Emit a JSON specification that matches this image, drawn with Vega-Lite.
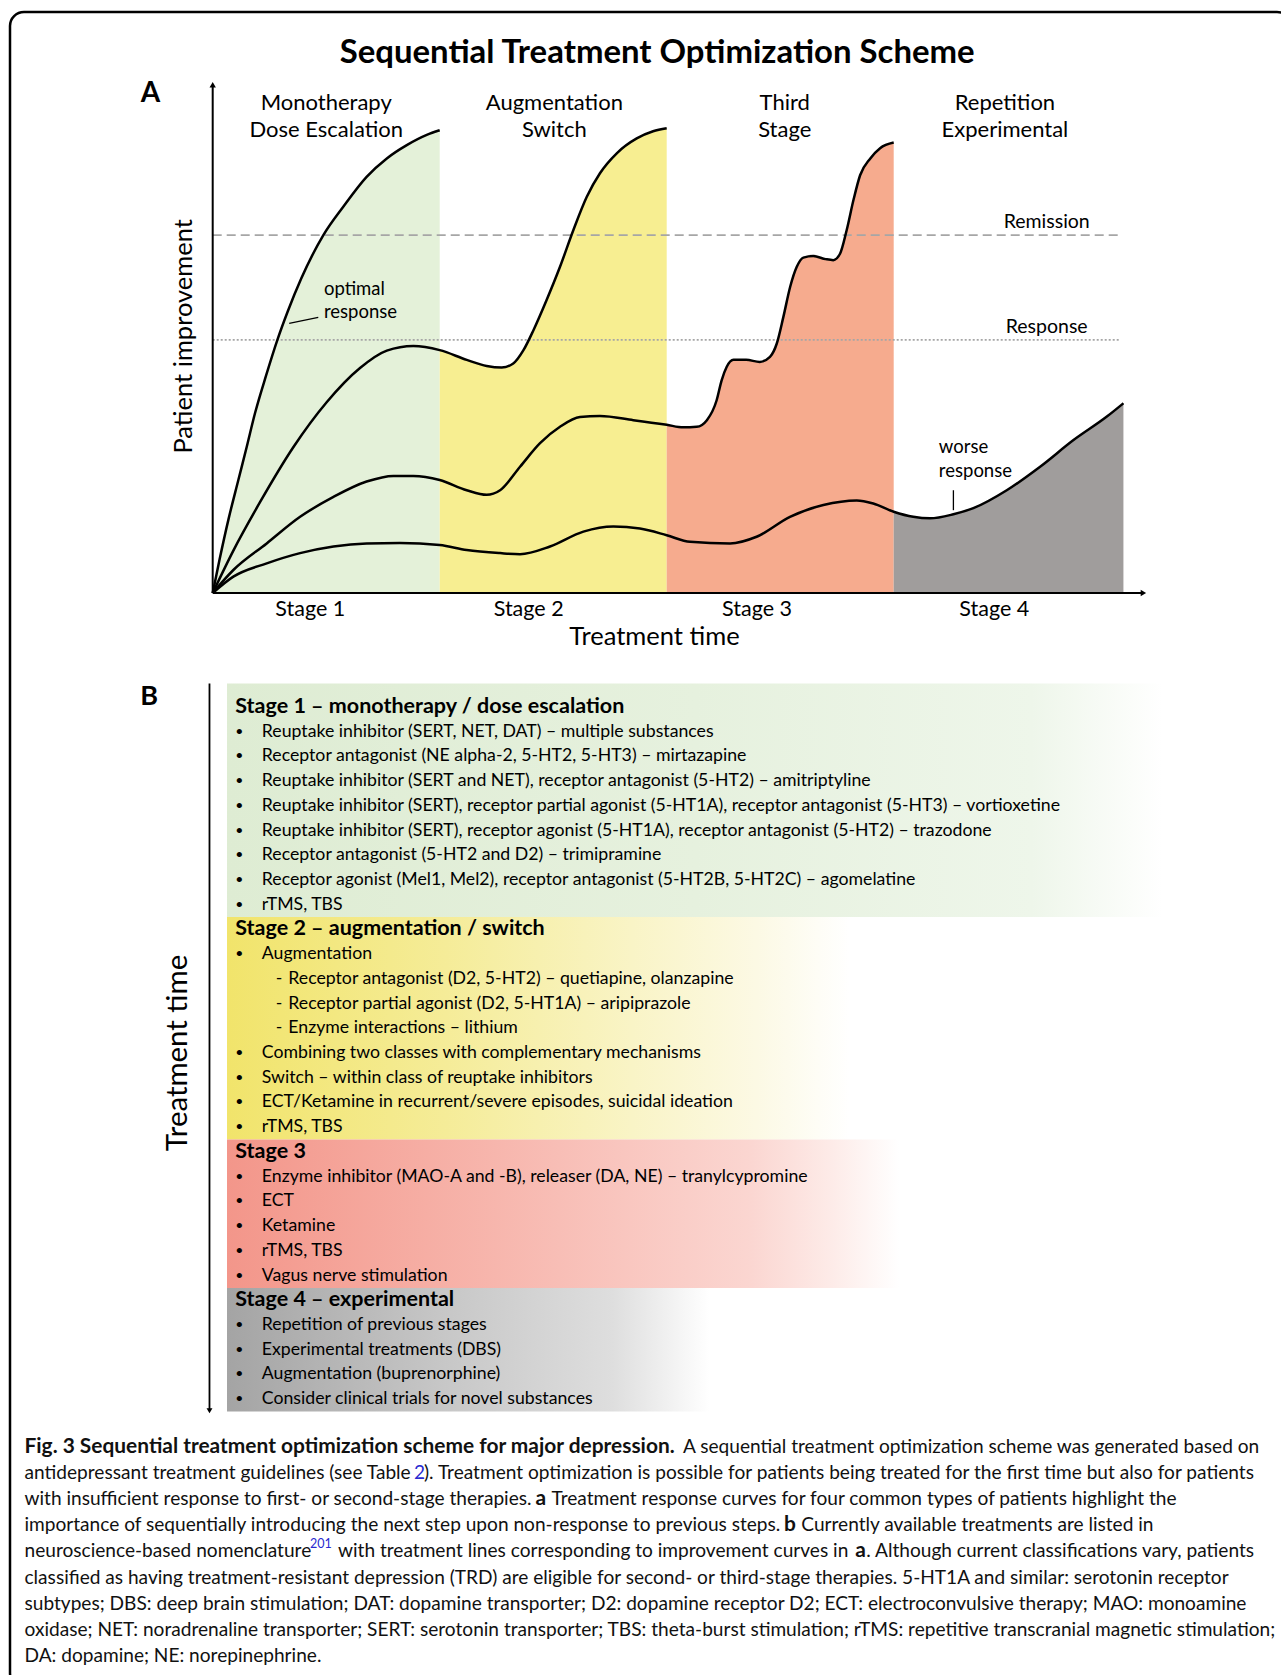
{
"$schema":"https://vega.github.io/schema/vega-lite/v6.json",
"width":1281,"height":1675,
"autosize":"none",
"padding":{"left":10,"top":12,"right":-10,"bottom":-12},
"background":"white",
"config":{"font":"Lato","view":{"stroke":"#000000","strokeWidth":2.5,"cornerRadius":14}},
"datasets":{
"curves":[
{"c":1,"t":0,"v":0},{"c":1,"t":0.03,"v":6.5},{"c":1,"t":0.07,"v":14.5},{"c":1,"t":0.113,"v":22.1},{"c":1,"t":0.15,"v":28.6},{"c":1,"t":0.186,"v":35.1},{"c":1,"t":0.235,"v":42.5},{"c":1,"t":0.285,"v":49.5},{"c":1,"t":0.33,"v":55},{"c":1,"t":0.39,"v":61.5},{"c":1,"t":0.4875,"v":70},{"c":1,"t":0.576,"v":75.6},{"c":1,"t":0.678,"v":81.4},{"c":1,"t":0.767,"v":85},{"c":1,"t":0.855,"v":87.6},{"c":1,"t":0.943,"v":89.6},{"c":1,"t":1,"v":90.5},
{"c":2,"t":0,"v":0},{"c":2,"t":0.091,"v":8.3},{"c":2,"t":0.209,"v":17.8},{"c":2,"t":0.355,"v":28.5},{"c":2,"t":0.502,"v":37.3},{"c":2,"t":0.649,"v":44},{"c":2,"t":0.767,"v":47.4},{"c":2,"t":0.884,"v":48.3},{"c":2,"t":1,"v":47.5},{"c":2,"t":1.119,"v":45.6},{"c":2,"t":1.207,"v":44.4},{"c":2,"t":1.273,"v":44.1},{"c":2,"t":1.324,"v":44.9},{"c":2,"t":1.369,"v":47.5},{"c":2,"t":1.413,"v":51.4},{"c":2,"t":1.471,"v":57.3},{"c":2,"t":1.53,"v":63.8},{"c":2,"t":1.589,"v":71},{"c":2,"t":1.648,"v":77.5},{"c":2,"t":1.706,"v":82.1},{"c":2,"t":1.78,"v":86},{"c":2,"t":1.868,"v":88.9},{"c":2,"t":1.94,"v":90.3},{"c":2,"t":2,"v":90.9},
{"c":3,"t":0,"v":0},{"c":3,"t":0.091,"v":4.5},{"c":3,"t":0.238,"v":9.7},{"c":3,"t":0.385,"v":14.9},{"c":3,"t":0.532,"v":18.8},{"c":3,"t":0.678,"v":21.8},{"c":3,"t":0.796,"v":22.9},{"c":3,"t":0.884,"v":22.9},{"c":3,"t":1,"v":22.1},{"c":3,"t":1.119,"v":20.1},{"c":3,"t":1.207,"v":19.2},{"c":3,"t":1.266,"v":20.1},{"c":3,"t":1.354,"v":24.7},{"c":3,"t":1.442,"v":29.3},{"c":3,"t":1.53,"v":32.5},{"c":3,"t":1.618,"v":34.4},{"c":3,"t":1.706,"v":34.6},{"c":3,"t":1.853,"v":33.8},{"c":3,"t":2,"v":32.9},{"c":3,"t":2.073,"v":32.4},{"c":3,"t":2.132,"v":32.5},{"c":3,"t":2.177,"v":33.8},{"c":3,"t":2.22,"v":37.7},{"c":3,"t":2.242,"v":41.6},{"c":3,"t":2.264,"v":44.2},{"c":3,"t":2.294,"v":45.6},{"c":3,"t":2.35,"v":45.6},{"c":3,"t":2.41,"v":45.2},{"c":3,"t":2.455,"v":46.2},{"c":3,"t":2.485,"v":48.8},{"c":3,"t":2.514,"v":54},{"c":3,"t":2.544,"v":59.9},{"c":3,"t":2.573,"v":63.8},{"c":3,"t":2.602,"v":65.6},{"c":3,"t":2.646,"v":65.9},{"c":3,"t":2.7,"v":65.3},{"c":3,"t":2.734,"v":65.1},{"c":3,"t":2.764,"v":66.4},{"c":3,"t":2.793,"v":71},{"c":3,"t":2.823,"v":76.9},{"c":3,"t":2.852,"v":81.7},{"c":3,"t":2.897,"v":85},{"c":3,"t":2.94,"v":87},{"c":3,"t":3,"v":88.1},
{"c":4,"t":0,"v":0},{"c":4,"t":0.091,"v":3.2},{"c":4,"t":0.238,"v":5.8},{"c":4,"t":0.385,"v":7.8},{"c":4,"t":0.532,"v":9.1},{"c":4,"t":0.678,"v":9.7},{"c":4,"t":0.825,"v":9.8},{"c":4,"t":1,"v":9.4},{"c":4,"t":1.119,"v":8.4},{"c":4,"t":1.266,"v":7.8},{"c":4,"t":1.354,"v":7.6},{"c":4,"t":1.486,"v":9.1},{"c":4,"t":1.633,"v":12},{"c":4,"t":1.765,"v":13},{"c":4,"t":1.882,"v":12.6},{"c":4,"t":2,"v":11.3},{"c":4,"t":2.103,"v":10},{"c":4,"t":2.279,"v":9.7},{"c":4,"t":2.396,"v":11},{"c":4,"t":2.543,"v":14.9},{"c":4,"t":2.69,"v":17.2},{"c":4,"t":2.837,"v":18.1},{"c":4,"t":2.91,"v":17.5},{"c":4,"t":3,"v":15.9},{"c":4,"t":3.086,"v":14.9},{"c":4,"t":3.16,"v":14.6},{"c":4,"t":3.263,"v":15.4},{"c":4,"t":3.351,"v":16.6},{"c":4,"t":3.498,"v":20.1},{"c":4,"t":3.645,"v":24.7},{"c":4,"t":3.792,"v":29.9},{"c":4,"t":3.939,"v":34.5},{"c":4,"t":4.012,"v":37.1}
],
"annotA":[
{"text":"Sequential Treatment Optimization Scheme","t":1.958,"v":103.66,"role":"title"},
{"text":"A","t":-0.3165,"v":96.1,"role":"panel"},
{"text":"Monotherapy","t":0.5,"v":94.5,"role":"phase"},
{"text":"Dose Escalation","t":0.5,"v":89.2,"role":"phase"},
{"text":"Augmentation","t":1.505,"v":94.5,"role":"phase"},
{"text":"Switch","t":1.505,"v":89.2,"role":"phase"},
{"text":"Third","t":2.52,"v":94.5,"role":"phase"},
{"text":"Stage","t":2.52,"v":89.2,"role":"phase"},
{"text":"Repetition","t":3.49,"v":94.5,"role":"phase"},
{"text":"Experimental","t":3.49,"v":89.2,"role":"phase"},
{"text":"Stage 1","t":0.43,"v":-4.5,"role":"stage"},
{"text":"Stage 2","t":1.392,"v":-4.5,"role":"stage"},
{"text":"Stage 3","t":2.398,"v":-4.5,"role":"stage"},
{"text":"Stage 4","t":3.443,"v":-4.5,"role":"stage"},
{"text":"Treatment time","t":1.946,"v":-10.2,"role":"xtitle"},
{"text":"Patient improvement","t":-0.092,"v":50.2,"role":"ytitle"},
{"text":"optimal","t":0.49,"v":58.3,"role":"note"},
{"text":"response","t":0.49,"v":53.7,"role":"note"},
{"text":"worse","t":3.199,"v":27.3,"role":"note"},
{"text":"response","t":3.199,"v":22.6,"role":"note"}
],
"thresholds":[{"label":"Remission","v":70},{"label":"Response","v":49.5}],
"leaders":[{"t":0.337,"v":52.75,"t2":0.465,"v2":53.92},{"t":3.263,"v":20.1,"t2":3.263,"v2":16.2}],
"items":[
{"row":0,"stage":1,"level":0,"text":"Stage 1 – monotherapy / dose escalation"},
{"row":1,"stage":1,"level":1,"text":"Reuptake inhibitor (SERT, NET, DAT) – multiple substances"},
{"row":2,"stage":1,"level":1,"text":"Receptor antagonist (NE alpha-2, 5-HT2, 5-HT3) – mirtazapine"},
{"row":3,"stage":1,"level":1,"text":"Reuptake inhibitor (SERT and NET), receptor antagonist (5-HT2) – amitriptyline"},
{"row":4,"stage":1,"level":1,"text":"Reuptake inhibitor (SERT), receptor partial agonist (5-HT1A), receptor antagonist (5-HT3) – vortioxetine"},
{"row":5,"stage":1,"level":1,"text":"Reuptake inhibitor (SERT), receptor agonist (5-HT1A), receptor antagonist (5-HT2) – trazodone"},
{"row":6,"stage":1,"level":1,"text":"Receptor antagonist (5-HT2 and D2) – trimipramine"},
{"row":7,"stage":1,"level":1,"text":"Receptor agonist (Mel1, Mel2), receptor antagonist (5-HT2B, 5-HT2C) – agomelatine"},
{"row":8,"stage":1,"level":1,"text":"rTMS, TBS"},
{"row":9,"stage":2,"level":0,"text":"Stage 2 – augmentation / switch"},
{"row":10,"stage":2,"level":1,"text":"Augmentation"},
{"row":11,"stage":2,"level":2,"text":"Receptor antagonist (D2, 5-HT2) – quetiapine, olanzapine"},
{"row":12,"stage":2,"level":2,"text":"Receptor partial agonist (D2, 5-HT1A) – aripiprazole"},
{"row":13,"stage":2,"level":2,"text":"Enzyme interactions – lithium"},
{"row":14,"stage":2,"level":1,"text":"Combining two classes with complementary mechanisms"},
{"row":15,"stage":2,"level":1,"text":"Switch – within class of reuptake inhibitors"},
{"row":16,"stage":2,"level":1,"text":"ECT/Ketamine in recurrent/severe episodes, suicidal ideation"},
{"row":17,"stage":2,"level":1,"text":"rTMS, TBS"},
{"row":18,"stage":3,"level":0,"text":"Stage 3"},
{"row":19,"stage":3,"level":1,"text":"Enzyme inhibitor (MAO-A and -B), releaser (DA, NE) – tranylcypromine"},
{"row":20,"stage":3,"level":1,"text":"ECT"},
{"row":21,"stage":3,"level":1,"text":"Ketamine"},
{"row":22,"stage":3,"level":1,"text":"rTMS, TBS"},
{"row":23,"stage":3,"level":1,"text":"Vagus nerve stimulation"},
{"row":24,"stage":4,"level":0,"text":"Stage 4 – experimental"},
{"row":25,"stage":4,"level":1,"text":"Repetition of previous stages"},
{"row":26,"stage":4,"level":1,"text":"Experimental treatments (DBS)"},
{"row":27,"stage":4,"level":1,"text":"Augmentation (buprenorphine)"},
{"row":28,"stage":4,"level":1,"text":"Consider clinical trials for novel substances"}
],
"annotB":[{"text":"B","role":"panel","level":-3.589,"row":0},{"text":"Treatment time","role":"axis","level":-1.808,"row":14}],
"caption":[
{"line":0,"f":0,"text":"Fig. 3 Sequential treatment optimization scheme for major depression.","kind":"bold"},
{"line":0,"f":0.5262,"text":"A sequential treatment optimization scheme was generated based on","kind":"plain"},
{"line":1,"f":0,"text":"antidepressant treatment guidelines (see Table","kind":"plain"},
{"line":1,"f":0.3112,"text":"2","kind":"ref"},
{"line":1,"f":0.3192,"text":"). Treatment optimization is possible for patients being treated for the first time but also for patients","kind":"plain"},
{"line":2,"f":0,"text":"with insufficient response to first- or second-stage therapies.","kind":"plain"},
{"line":2,"f":0.4083,"text":"a","kind":"bold"},
{"line":2,"f":0.4211,"text":"Treatment response curves for four common types of patients highlight the","kind":"plain"},
{"line":3,"f":0,"text":"importance of sequentially introducing the next step upon non-response to previous steps.","kind":"plain"},
{"line":3,"f":0.6069,"text":"b","kind":"bold"},
{"line":3,"f":0.6207,"text":"Currently available treatments are listed in","kind":"plain"},
{"line":4,"f":0,"text":"neuroscience-based nomenclature","kind":"plain"},
{"line":4,"f":0.2281,"text":"201","kind":"sup"},
{"line":4,"f":0.2505,"text":"with treatment lines corresponding to improvement curves in","kind":"plain"},
{"line":4,"f":0.6638,"text":"a","kind":"bold"},
{"line":4,"f":0.6726,"text":". Although current classifications vary, patients","kind":"plain"},
{"line":5,"f":0,"text":"classified as having treatment-resistant depression (TRD) are eligible for second- or third-stage therapies. 5-HT1A and similar: serotonin receptor","kind":"plain"},
{"line":6,"f":0,"text":"subtypes; DBS: deep brain stimulation; DAT: dopamine transporter; D2: dopamine receptor D2; ECT: electroconvulsive therapy; MAO: monoamine","kind":"plain"},
{"line":7,"f":0,"text":"oxidase; NET: noradrenaline transporter; SERT: serotonin transporter; TBS: theta-burst stimulation; rTMS: repetitive transcranial magnetic stimulation;","kind":"plain"},
{"line":8,"f":0,"text":"DA: dopamine; NE: norepinephrine.","kind":"plain"}
]
},
"resolve":{"scale":{"x":"independent","y":"independent"}},
"layer":[
{"layer":[
{"data":{"name":"curves"},"transform":[{"filter":"datum.c == 1"}],"mark":{"type":"area","interpolate":"monotone","fill":"#e4f1d9"},"encoding":{"x":{"field":"t","type":"quantitative","scale":{"domain":[0,4],"range":[202.7,1110.7],"nice":false,"zero":false},"axis":null},"y":{"field":"v","type":"quantitative","scale":{"domain":[0,100],"range":[581,69.7],"nice":false,"zero":false},"axis":null},"y2":{"datum":0}}},
{"data":{"name":"curves"},"transform":[{"filter":"datum.c == 2 && datum.t >= 1"}],"mark":{"type":"area","interpolate":"monotone","fill":"#f7ee91"},"encoding":{"x":{"field":"t","type":"quantitative","scale":{"domain":[0,4],"range":[202.7,1110.7],"nice":false,"zero":false},"axis":null},"y":{"field":"v","type":"quantitative","scale":{"domain":[0,100],"range":[581,69.7],"nice":false,"zero":false},"axis":null},"y2":{"datum":0}}},
{"data":{"name":"curves"},"transform":[{"filter":"datum.c == 3 && datum.t >= 2"}],"mark":{"type":"area","interpolate":"monotone","fill":"#f6ab8e"},"encoding":{"x":{"field":"t","type":"quantitative","scale":{"domain":[0,4],"range":[202.7,1110.7],"nice":false,"zero":false},"axis":null},"y":{"field":"v","type":"quantitative","scale":{"domain":[0,100],"range":[581,69.7],"nice":false,"zero":false},"axis":null},"y2":{"datum":0}}},
{"data":{"name":"curves"},"transform":[{"filter":"datum.c == 4 && datum.t >= 3"}],"mark":{"type":"area","interpolate":"monotone","fill":"#a09d9c"},"encoding":{"x":{"field":"t","type":"quantitative","scale":{"domain":[0,4],"range":[202.7,1110.7],"nice":false,"zero":false},"axis":null},"y":{"field":"v","type":"quantitative","scale":{"domain":[0,100],"range":[581,69.7],"nice":false,"zero":false},"axis":null},"y2":{"datum":0}}},
{"data":{"name":"thresholds"},"transform":[{"filter":"datum.label == 'Remission'"}],"mark":{"type":"rule","color":"#a6a6a6","strokeWidth":1.6,"strokeDash":[9,5]},"encoding":{"x":{"datum":0,"scale":{"domain":[0,4],"range":[202.7,1110.7],"nice":false,"zero":false},"axis":null},"x2":{"datum":4.0},"y":{"field":"v","type":"quantitative","scale":{"domain":[0,100],"range":[581,69.7],"nice":false,"zero":false},"axis":null}}},
{"data":{"name":"thresholds"},"transform":[{"filter":"datum.label == 'Response'"}],"mark":{"type":"rule","color":"#a6a6a6","strokeWidth":1.6,"strokeDash":[2,2]},"encoding":{"x":{"datum":0,"scale":{"domain":[0,4],"range":[202.7,1110.7],"nice":false,"zero":false},"axis":null},"x2":{"datum":4.0},"y":{"field":"v","type":"quantitative","scale":{"domain":[0,100],"range":[581,69.7],"nice":false,"zero":false},"axis":null}}},
{"data":{"name":"curves"},"mark":{"type":"line","interpolate":"monotone","color":"#000000","strokeWidth":2.5},"encoding":{"x":{"field":"t","type":"quantitative","scale":{"domain":[0,4],"range":[202.7,1110.7],"nice":false,"zero":false},"axis":null},"y":{"field":"v","type":"quantitative","scale":{"domain":[0,100],"range":[581,69.7],"nice":false,"zero":false},"axis":null},"detail":{"field":"c","type":"nominal"}}},
{"data":{"values":[{}]},"mark":{"type":"rule","color":"#000000","strokeWidth":2},"encoding":{"x":{"datum":0,"scale":{"domain":[0,4],"range":[202.7,1110.7],"nice":false,"zero":false},"axis":null},"y":{"datum":0,"scale":{"domain":[0,100],"range":[581,69.7],"nice":false,"zero":false},"axis":null},"y2":{"datum":99}}},
{"data":{"values":[{}]},"mark":{"type":"rule","color":"#000000","strokeWidth":2},"encoding":{"x":{"datum":0,"scale":{"domain":[0,4],"range":[202.7,1110.7],"nice":false,"zero":false},"axis":null},"x2":{"datum":4.09},"y":{"datum":0,"scale":{"domain":[0,100],"range":[581,69.7],"nice":false,"zero":false},"axis":null}}},
{"data":{"values":[{}]},"mark":{"type":"point","shape":"triangle-up","filled":true,"color":"#000000","size":40,"opacity":1},"encoding":{"x":{"datum":0,"scale":{"domain":[0,4],"range":[202.7,1110.7],"nice":false,"zero":false},"axis":null},"y":{"datum":99.4,"scale":{"domain":[0,100],"range":[581,69.7],"nice":false,"zero":false},"axis":null}}},
{"data":{"values":[{}]},"mark":{"type":"point","shape":"triangle-right","filled":true,"color":"#000000","size":40,"opacity":1},"encoding":{"x":{"datum":4.1,"scale":{"domain":[0,4],"range":[202.7,1110.7],"nice":false,"zero":false},"axis":null},"y":{"datum":0,"scale":{"domain":[0,100],"range":[581,69.7],"nice":false,"zero":false},"axis":null}}},
{"data":{"name":"leaders"},"mark":{"type":"rule","color":"#000000","strokeWidth":1.3},"encoding":{"x":{"field":"t","type":"quantitative","scale":{"domain":[0,4],"range":[202.7,1110.7],"nice":false,"zero":false},"axis":null},"x2":{"field":"t2"},"y":{"field":"v","type":"quantitative","scale":{"domain":[0,100],"range":[581,69.7],"nice":false,"zero":false},"axis":null},"y2":{"field":"v2"}}},
{"data":{"name":"thresholds"},"mark":{"type":"text","fontSize":19.5,"align":"center","baseline":"alphabetic","dy":-7,"color":"#000000"},"encoding":{"x":{"datum":3.674,"scale":{"domain":[0,4],"range":[202.7,1110.7],"nice":false,"zero":false},"axis":null},"y":{"field":"v","type":"quantitative","scale":{"domain":[0,100],"range":[581,69.7],"nice":false,"zero":false},"axis":null},"text":{"field":"label","type":"nominal"}}},
{"data":{"name":"annotA"},"transform":[{"filter":"datum.role == 'title'"}],"mark":{"type":"text","fontSize":32.9,"fontWeight":"bold","align":"center","baseline":"alphabetic","color":"#000000"},"encoding":{"x":{"field":"t","type":"quantitative","scale":{"domain":[0,4],"range":[202.7,1110.7],"nice":false,"zero":false},"axis":null},"y":{"field":"v","type":"quantitative","scale":{"domain":[0,100],"range":[581,69.7],"nice":false,"zero":false},"axis":null},"text":{"field":"text","type":"nominal"}}},
{"data":{"name":"annotA"},"transform":[{"filter":"datum.role == 'panel'"}],"mark":{"type":"text","fontSize":28,"fontWeight":"bold","align":"left","baseline":"alphabetic","color":"#000000"},"encoding":{"x":{"field":"t","type":"quantitative","scale":{"domain":[0,4],"range":[202.7,1110.7],"nice":false,"zero":false},"axis":null},"y":{"field":"v","type":"quantitative","scale":{"domain":[0,100],"range":[581,69.7],"nice":false,"zero":false},"axis":null},"text":{"field":"text","type":"nominal"}}},
{"data":{"name":"annotA"},"transform":[{"filter":"datum.role == 'phase'"}],"mark":{"type":"text","fontSize":22,"align":"center","baseline":"alphabetic","color":"#000000"},"encoding":{"x":{"field":"t","type":"quantitative","scale":{"domain":[0,4],"range":[202.7,1110.7],"nice":false,"zero":false},"axis":null},"y":{"field":"v","type":"quantitative","scale":{"domain":[0,100],"range":[581,69.7],"nice":false,"zero":false},"axis":null},"text":{"field":"text","type":"nominal"}}},
{"data":{"name":"annotA"},"transform":[{"filter":"datum.role == 'stage'"}],"mark":{"type":"text","fontSize":21.5,"align":"center","baseline":"alphabetic","color":"#000000"},"encoding":{"x":{"field":"t","type":"quantitative","scale":{"domain":[0,4],"range":[202.7,1110.7],"nice":false,"zero":false},"axis":null},"y":{"field":"v","type":"quantitative","scale":{"domain":[0,100],"range":[581,69.7],"nice":false,"zero":false},"axis":null},"text":{"field":"text","type":"nominal"}}},
{"data":{"name":"annotA"},"transform":[{"filter":"datum.role == 'xtitle'"}],"mark":{"type":"text","fontSize":25.5,"align":"center","baseline":"alphabetic","color":"#000000"},"encoding":{"x":{"field":"t","type":"quantitative","scale":{"domain":[0,4],"range":[202.7,1110.7],"nice":false,"zero":false},"axis":null},"y":{"field":"v","type":"quantitative","scale":{"domain":[0,100],"range":[581,69.7],"nice":false,"zero":false},"axis":null},"text":{"field":"text","type":"nominal"}}},
{"data":{"name":"annotA"},"transform":[{"filter":"datum.role == 'ytitle'"}],"mark":{"type":"text","fontSize":25.5,"align":"center","baseline":"alphabetic","angle":270,"color":"#000000"},"encoding":{"x":{"field":"t","type":"quantitative","scale":{"domain":[0,4],"range":[202.7,1110.7],"nice":false,"zero":false},"axis":null},"y":{"field":"v","type":"quantitative","scale":{"domain":[0,100],"range":[581,69.7],"nice":false,"zero":false},"axis":null},"text":{"field":"text","type":"nominal"}}},
{"data":{"name":"annotA"},"transform":[{"filter":"datum.role == 'note'"}],"mark":{"type":"text","fontSize":18.5,"align":"left","baseline":"alphabetic","color":"#000000"},"encoding":{"x":{"field":"t","type":"quantitative","scale":{"domain":[0,4],"range":[202.7,1110.7],"nice":false,"zero":false},"axis":null},"y":{"field":"v","type":"quantitative","scale":{"domain":[0,100],"range":[581,69.7],"nice":false,"zero":false},"axis":null},"text":{"field":"text","type":"nominal"}}}
]},
{"layer":[
{"data":{"values":[{}]},"mark":{"type":"rect","fill":{"gradient":"linear","x1":0,"y1":0,"x2":1,"y2":0,"stops":[{"offset":0,"color":"#deecd3"},{"offset":0.5,"color":"#e6f1de"},{"offset":0.86,"color":"#eef6ea"},{"offset":1,"color":"#ffffff"}]}},"encoding":{"x":{"datum":-0.313,"scale":{"domain":[0,1],"range":[225.3,251.8],"nice":false,"zero":false},"axis":null},"x2":{"datum":35.0},"y":{"datum":0,"bandPosition":-0.45,"scale":{"type":"band","domain":[0,1,2,3,4,5,6,7,8,9,10,11,12,13,14,15,16,17,18,19,20,21,22,23,24,25,26,27,28],"range":[682.6,1399.5],"paddingInner":0,"paddingOuter":0},"axis":null},"y2":{"datum":8,"bandPosition":1}}},
{"data":{"values":[{}]},"mark":{"type":"rect","fill":{"gradient":"linear","x1":0,"y1":0,"x2":1,"y2":0,"stops":[{"offset":0,"color":"#f1e46b"},{"offset":0.35,"color":"#f5ec98"},{"offset":0.65,"color":"#f9f4c6"},{"offset":0.85,"color":"#fcf9e4"},{"offset":1,"color":"#ffffff"}]}},"encoding":{"x":{"datum":-0.313,"scale":{"domain":[0,1],"range":[225.3,251.8],"nice":false,"zero":false},"axis":null},"x2":{"datum":23.2},"y":{"datum":9,"bandPosition":0,"scale":{"type":"band","domain":[0,1,2,3,4,5,6,7,8,9,10,11,12,13,14,15,16,17,18,19,20,21,22,23,24,25,26,27,28],"range":[682.6,1399.5],"paddingInner":0,"paddingOuter":0},"axis":null},"y2":{"datum":17,"bandPosition":1}}},
{"data":{"values":[{}]},"mark":{"type":"rect","fill":{"gradient":"linear","x1":0,"y1":0,"x2":1,"y2":0,"stops":[{"offset":0,"color":"#f3968a"},{"offset":0.4,"color":"#f7b6ad"},{"offset":0.78,"color":"#fbd6d1"},{"offset":0.9,"color":"#fdebe8"},{"offset":1,"color":"#ffffff"}]}},"encoding":{"x":{"datum":-0.313,"scale":{"domain":[0,1],"range":[225.3,251.8],"nice":false,"zero":false},"axis":null},"x2":{"datum":25.05},"y":{"datum":18,"bandPosition":0,"scale":{"type":"band","domain":[0,1,2,3,4,5,6,7,8,9,10,11,12,13,14,15,16,17,18,19,20,21,22,23,24,25,26,27,28],"range":[682.6,1399.5],"paddingInner":0,"paddingOuter":0},"axis":null},"y2":{"datum":23,"bandPosition":1}}},
{"data":{"values":[{}]},"mark":{"type":"rect","fill":{"gradient":"linear","x1":0,"y1":0,"x2":1,"y2":0,"stops":[{"offset":0,"color":"#a4a4a4"},{"offset":0.45,"color":"#c7c7c7"},{"offset":0.8,"color":"#dedede"},{"offset":1,"color":"#ffffff"}]}},"encoding":{"x":{"datum":-0.313,"scale":{"domain":[0,1],"range":[225.3,251.8],"nice":false,"zero":false},"axis":null},"x2":{"datum":17.9},"y":{"datum":24,"bandPosition":0,"scale":{"type":"band","domain":[0,1,2,3,4,5,6,7,8,9,10,11,12,13,14,15,16,17,18,19,20,21,22,23,24,25,26,27,28],"range":[682.6,1399.5],"paddingInner":0,"paddingOuter":0},"axis":null},"y2":{"datum":28,"bandPosition":1}}},
{"data":{"name":"items"},"transform":[{"filter":"datum.level == 0"}],"mark":{"type":"text","fontSize":21.5,"fontWeight":"bold","align":"left","baseline":"middle","color":"#000000"},"encoding":{"x":{"field":"level","type":"quantitative","scale":{"domain":[0,1],"range":[225.3,251.8],"nice":false,"zero":false},"axis":null},"y":{"field":"row","type":"ordinal","scale":{"type":"band","domain":[0,1,2,3,4,5,6,7,8,9,10,11,12,13,14,15,16,17,18,19,20,21,22,23,24,25,26,27,28],"range":[682.6,1399.5],"paddingInner":0,"paddingOuter":0},"axis":null},"text":{"field":"text","type":"nominal"}}},
{"data":{"name":"items"},"transform":[{"filter":"datum.level > 0"}],"mark":{"type":"text","fontSize":17.7,"align":"left","baseline":"middle","color":"#000000"},"encoding":{"x":{"field":"level","type":"quantitative","scale":{"domain":[0,1],"range":[225.3,251.8],"nice":false,"zero":false},"axis":null},"y":{"field":"row","type":"ordinal","scale":{"type":"band","domain":[0,1,2,3,4,5,6,7,8,9,10,11,12,13,14,15,16,17,18,19,20,21,22,23,24,25,26,27,28],"range":[682.6,1399.5],"paddingInner":0,"paddingOuter":0},"axis":null},"text":{"field":"text","type":"nominal"}}},
{"data":{"name":"items"},"transform":[{"filter":"datum.level == 1"}],"mark":{"type":"text","fontSize":14,"align":"left","baseline":"middle","dx":-26.5,"color":"#000000"},"encoding":{"x":{"field":"level","type":"quantitative","scale":{"domain":[0,1],"range":[225.3,251.8],"nice":false,"zero":false},"axis":null},"y":{"field":"row","type":"ordinal","scale":{"type":"band","domain":[0,1,2,3,4,5,6,7,8,9,10,11,12,13,14,15,16,17,18,19,20,21,22,23,24,25,26,27,28],"range":[682.6,1399.5],"paddingInner":0,"paddingOuter":0},"axis":null},"text":{"value":"•"}}},
{"data":{"name":"items"},"transform":[{"filter":"datum.level == 2"}],"mark":{"type":"text","fontSize":17.7,"align":"left","baseline":"middle","dx":-12.6,"color":"#000000"},"encoding":{"x":{"field":"level","type":"quantitative","scale":{"domain":[0,1],"range":[225.3,251.8],"nice":false,"zero":false},"axis":null},"y":{"field":"row","type":"ordinal","scale":{"type":"band","domain":[0,1,2,3,4,5,6,7,8,9,10,11,12,13,14,15,16,17,18,19,20,21,22,23,24,25,26,27,28],"range":[682.6,1399.5],"paddingInner":0,"paddingOuter":0},"axis":null},"text":{"value":"-"}}},
{"data":{"name":"annotB"},"transform":[{"filter":"datum.role == 'panel'"}],"mark":{"type":"text","fontSize":27,"fontWeight":"bold","align":"left","baseline":"alphabetic","dy":-2,"color":"#000000"},"encoding":{"x":{"field":"level","type":"quantitative","scale":{"domain":[0,1],"range":[225.3,251.8],"nice":false,"zero":false},"axis":null},"y":{"field":"row","type":"ordinal","scale":{"type":"band","domain":[0,1,2,3,4,5,6,7,8,9,10,11,12,13,14,15,16,17,18,19,20,21,22,23,24,25,26,27,28],"range":[682.6,1399.5],"paddingInner":0,"paddingOuter":0},"axis":null},"text":{"field":"text","type":"nominal"}}},
{"data":{"name":"annotB"},"transform":[{"filter":"datum.role == 'axis'"}],"mark":{"type":"text","fontSize":29.4,"align":"center","baseline":"alphabetic","angle":270,"color":"#000000"},"encoding":{"x":{"field":"level","type":"quantitative","scale":{"domain":[0,1],"range":[225.3,251.8],"nice":false,"zero":false},"axis":null},"y":{"field":"row","type":"ordinal","scale":{"type":"band","domain":[0,1,2,3,4,5,6,7,8,9,10,11,12,13,14,15,16,17,18,19,20,21,22,23,24,25,26,27,28],"range":[682.6,1399.5],"paddingInner":0,"paddingOuter":0},"axis":null},"text":{"field":"text","type":"nominal"}}},
{"data":{"values":[{}]},"mark":{"type":"rule","color":"#000000","strokeWidth":1.8},"encoding":{"x":{"datum":-0.974,"scale":{"domain":[0,1],"range":[225.3,251.8],"nice":false,"zero":false},"axis":null},"y":{"datum":0,"bandPosition":-0.45,"scale":{"type":"band","domain":[0,1,2,3,4,5,6,7,8,9,10,11,12,13,14,15,16,17,18,19,20,21,22,23,24,25,26,27,28],"range":[682.6,1399.5],"paddingInner":0,"paddingOuter":0},"axis":null},"y2":{"datum":28,"bandPosition":0.97}}},
{"data":{"values":[{}]},"mark":{"type":"point","shape":"triangle-down","filled":true,"color":"#000000","size":35,"opacity":1},"encoding":{"x":{"datum":-0.974,"scale":{"domain":[0,1],"range":[225.3,251.8],"nice":false,"zero":false},"axis":null},"y":{"datum":28,"bandPosition":0.97,"scale":{"type":"band","domain":[0,1,2,3,4,5,6,7,8,9,10,11,12,13,14,15,16,17,18,19,20,21,22,23,24,25,26,27,28],"range":[682.6,1399.5],"paddingInner":0,"paddingOuter":0},"axis":null}}}
]},
{"layer":[
{"data":{"name":"caption"},"transform":[{"filter":"datum.kind == 'plain'"}],"mark":{"type":"text","fontSize":19.1,"align":"left","baseline":"middle","color":"#111111"},"encoding":{"x":{"field":"f","type":"quantitative","scale":{"domain":[0,1],"range":[14.5,1266],"nice":false,"zero":false},"axis":null},"y":{"field":"line","type":"quantitative","scale":{"domain":[0,8],"range":[1434.7,1644.1],"nice":false,"zero":false},"axis":null},"text":{"field":"text","type":"nominal"}}},
{"data":{"name":"caption"},"transform":[{"filter":"datum.kind == 'bold'"}],"mark":{"type":"text","fontSize":20.9,"fontWeight":"bold","align":"left","baseline":"middle","color":"#111111"},"encoding":{"x":{"field":"f","type":"quantitative","scale":{"domain":[0,1],"range":[14.5,1266],"nice":false,"zero":false},"axis":null},"y":{"field":"line","type":"quantitative","scale":{"domain":[0,8],"range":[1434.7,1644.1],"nice":false,"zero":false},"axis":null},"text":{"field":"text","type":"nominal"}}},
{"data":{"name":"caption"},"transform":[{"filter":"datum.kind == 'ref'"}],"mark":{"type":"text","fontSize":19.1,"align":"left","baseline":"middle","color":"#2a2ad0"},"encoding":{"x":{"field":"f","type":"quantitative","scale":{"domain":[0,1],"range":[14.5,1266],"nice":false,"zero":false},"axis":null},"y":{"field":"line","type":"quantitative","scale":{"domain":[0,8],"range":[1434.7,1644.1],"nice":false,"zero":false},"axis":null},"text":{"field":"text","type":"nominal"}}},
{"data":{"name":"caption"},"transform":[{"filter":"datum.kind == 'sup'"}],"mark":{"type":"text","fontSize":12.5,"align":"left","baseline":"middle","dy":-7,"color":"#2a2ad0"},"encoding":{"x":{"field":"f","type":"quantitative","scale":{"domain":[0,1],"range":[14.5,1266],"nice":false,"zero":false},"axis":null},"y":{"field":"line","type":"quantitative","scale":{"domain":[0,8],"range":[1434.7,1644.1],"nice":false,"zero":false},"axis":null},"text":{"field":"text","type":"nominal"}}}
]}
]
}
